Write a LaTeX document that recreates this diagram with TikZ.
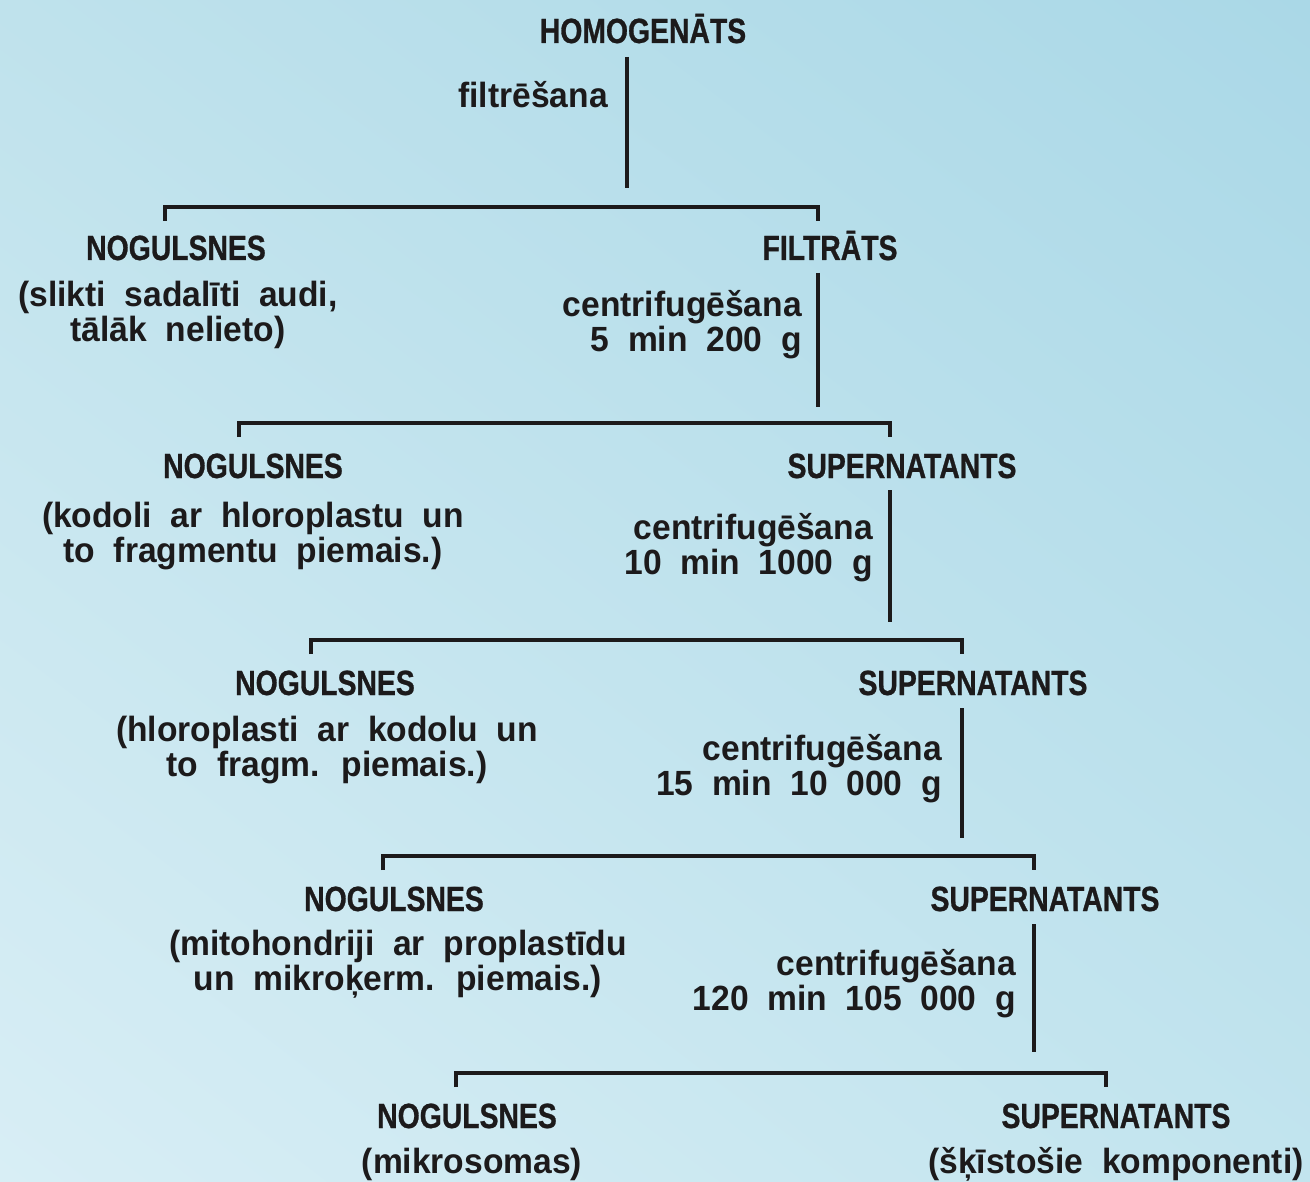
\documentclass[tikz,border=0pt]{standalone}
\usepackage{fontspec}
\usetikzlibrary{shadings}
\setmainfont{Liberation Sans}[FakeStretch=0.96,WordSpace=2]
\newfontfamily\headfont{Liberation Sans Bold}[FakeStretch=0.81,FakeBold=0.8]
\definecolor{ink}{HTML}{1C1A1B}
\definecolor{bgul}{HTML}{BFE2EC}
\definecolor{bgur}{HTML}{AAD8E7}
\definecolor{bgll}{HTML}{D8EEF5}
\definecolor{bglr}{HTML}{C2E4EE}

\begin{document}
\begin{tikzpicture}[x=1pt,y=-1pt,
    head/.style={font=\headfont\fontsize{35}{35}\selectfont, text=ink, inner sep=0pt, anchor=base},
    note/.style={font=\bfseries\fontsize{35}{35}\selectfont, text=ink, inner sep=0pt, align=center, anchor=base},
    cond/.style={note, align=right, anchor=base east},
    link/.style={draw=ink, line width=3.2pt}]

                \shade[upper left=bgul, upper right=bgur, lower left=bgll, lower right=bglr] (0,0) rectangle (1310,1182);
                \useasboundingbox (0,0) rectangle (1310,1182);

                % homogenate (multi-line nodes sit on their last baseline)
                \node[head] (homog) at (643,43) {HOMOGENĀTS};
                \node[cond] (filt) at (608,108) {filtrēšana};
                \coordinate (s0) at (627,57);
                \coordinate (e0) at (627,188);
                \draw[link] (s0) -- (e0);

                % level 1
                \coordinate (l1) at (165,221);
                \coordinate (r1) at (818,221);
                \draw[link] (l1) -- ++(0,-14) -| (r1);
                \node[head] (nog1) at (176,260) {NOGULSNES};
                \node[note] (nogt1) at (178,342) {(slikti sadalīti audi,\\tālāk nelieto)};
                \node[head] (filtr) at (830,260) {FILTRĀTS};
                \node[cond] (cen1) at (802,352) {centrifugēšana\\5 min 200 g};
                \coordinate (s1) at (818,273);
                \coordinate (e1) at (818,407);
                \draw[link] (s1) -- (e1);

                % level 2
                \coordinate (l2) at (239,437);
                \coordinate (r2) at (890,437);
                \draw[link] (l2) -- ++(0,-14) -| (r2);
                \node[head] (nog2) at (253,478) {NOGULSNES};
                \node[note] (nogt2) at (253,562) {(kodoli ar hloroplastu un\\to fragmentu piemais.)};
                \node[head] (sup2) at (902,478) {SUPERNATANTS};
                \node[cond] (cen2) at (873,574) {centrifugēšana\\10 min 1000 g};
                \coordinate (s2) at (890,490);
                \coordinate (e2) at (890,622);
                \draw[link] (s2) -- (e2);

                % level 3
                \coordinate (l3) at (311,654);
                \coordinate (r3) at (962,654);
                \draw[link] (l3) -- ++(0,-14) -| (r3);
                \node[head] (nog3) at (325,695) {NOGULSNES};
                \node[note] (nogt3) at (327,776) {(hloroplasti ar kodolu un\\to fragm. piemais.)};
                \node[head] (sup3) at (973,695) {SUPERNATANTS};
                \node[cond] (cen3) at (942,795) {centrifugēšana\\15 min 10 000 g};
                \coordinate (s3) at (962,708);
                \coordinate (e3) at (962,838);
                \draw[link] (s3) -- (e3);

                % level 4
                \coordinate (l4) at (383,870);
                \coordinate (r4) at (1034,870);
                \draw[link] (l4) -- ++(0,-14) -| (r4);
                \node[head] (nog4) at (394,911) {NOGULSNES};
                \node[note] (nogt4) at (398,990) {(mitohondriji ar proplastīdu\\un mikroķerm. piemais.)};
                \node[head] (sup4) at (1045,911) {SUPERNATANTS};
                \node[cond] (cen4) at (1016,1010) {centrifugēšana\\120 min 105 000 g};
                \coordinate (s4) at (1034,924);
                \coordinate (e4) at (1034,1052);
                \draw[link] (s4) -- (e4);

                % level 5
                \coordinate (l5) at (456,1087);
                \coordinate (r5) at (1106,1087);
                \draw[link] (l5) -- ++(0,-14) -| (r5);
                \node[head] (nog5) at (467,1128) {NOGULSNES};
                \node[note] (nogt5) at (472,1173) {(mikrosomas)};
                \node[head] (sup5) at (1116,1128) {SUPERNATANTS};
                \node[note] (supt5) at (1116,1173) {(šķīstošie komponenti)};

\end{tikzpicture}
\end{document}
